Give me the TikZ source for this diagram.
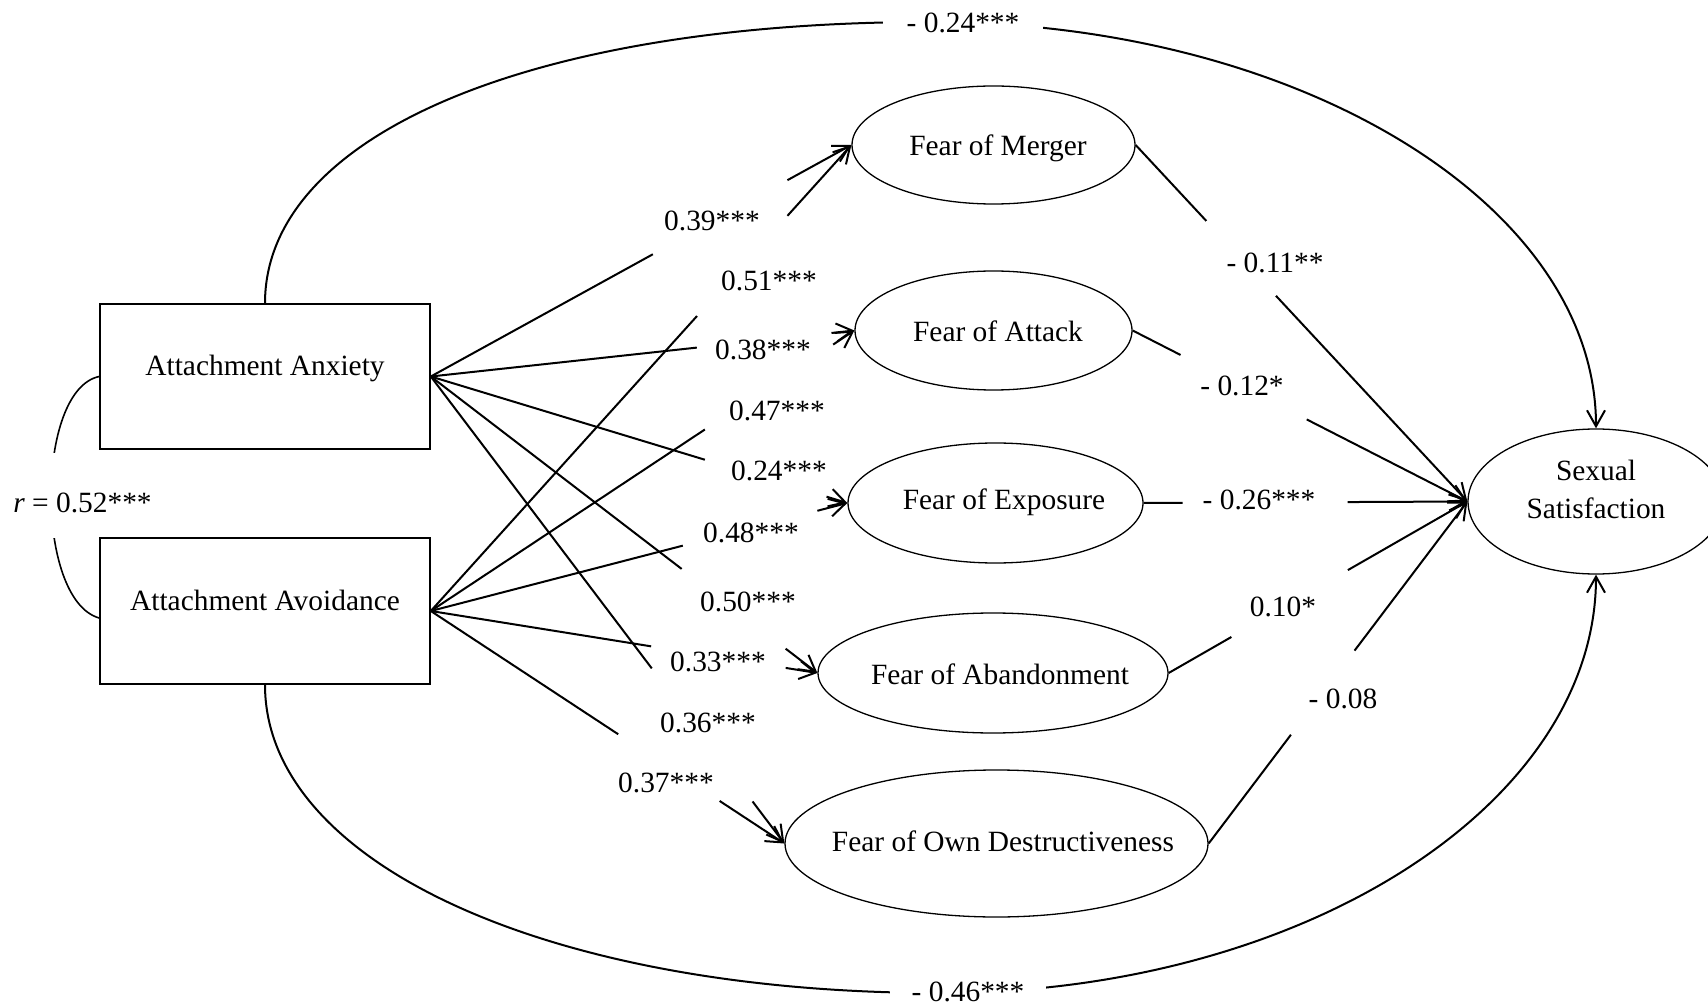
\documentclass[tikz,border=0pt]{standalone}
\usepackage{fontspec}
\setmainfont{Liberation Serif}
\usetikzlibrary{arrows.meta,calc,shapes.geometric}
\newcommand{\gapline}[4]{%
  \draw[conn] (#1) -- ($(#1)!#3!(#2)$);
  \draw[arr] ($(#1)!#4!(#2)$) -- (#2);}
\begin{document}
\begin{tikzpicture}[x=0.5pt,y=-0.5pt,
  font=\fontsize{14.7}{19}\selectfont,
  box/.style={draw, line width=0.8pt, minimum width=165pt, inner sep=0pt},
  lat/.style={draw, ellipse, line width=0.65pt, inner sep=0pt},
  txt/.style={inner sep=0pt, text height=0.66em, text depth=0pt},
  coef/.style={inner sep=0pt},
  conn/.style={line width=1pt},
  arr/.style={line width=1pt, -{Straight Barb[length=8pt,width=9pt]}},
]
\useasboundingbox (0,0) rectangle (1708,1005);

% observed variables
\node[box, minimum height=72.5pt] (anx) at (265,376.5) {};
\node[box, minimum height=73pt] (avo) at (265,611) {};
\node[txt] (anxt) at (265,368.5) {Attachment Anxiety};
\node[txt] (avot) at (265,604) {Attachment Avoidance};

% mediators
\node[lat, minimum width=141.5pt, minimum height=59pt] (mer) at (993.5,145) {};
\node[lat, minimum width=138.5pt, minimum height=59.5pt] (att) at (993.5,330.5) {};
\node[lat, minimum width=147.5pt, minimum height=60pt] (exp) at (995.5,503) {};
\node[lat, minimum width=175pt, minimum height=60pt] (aba) at (993,673) {};
\node[lat, minimum width=211.5pt, minimum height=73.5pt] (des) at (996.5,843.5) {};
\node[txt] (mert) at (998,148.5) {Fear of Merger};
\node[txt] (attt) at (998,335) {Fear of Attack};
\node[txt] (expt) at (1004,503) {Fear of Exposure};
\node[txt] (abat) at (1000,678) {Fear of Abandonment};
\node[txt] (dest) at (1003,845) {Fear of Own Destructiveness};

% outcome
\node[lat, minimum width=128pt, minimum height=72.5pt] (sat) at (1596,501.5) {};
\node[txt] (satt1) at (1596,474) {Sexual};
\node[txt] (satt2) at (1596,511.5) {Satisfaction};

% correlation
\begin{scope}
  \clip (0,0) rectangle (101,453) (0,538) rectangle (101,1005);
  \draw[line width=0.8pt] (anx.west) .. controls (35,390) and (35,600) .. ([yshift=-3.5pt]avo.west);
\end{scope}
\node[coef] (rl) at (82.5,503) {\textit{r} = 0.52***};

% direct effects
\draw[arr] (anx.north) .. controls (265,135) and (531,22) .. (930,22)
  .. controls (1298,22) and (1596,204) .. (sat.north);
\draw[arr] (avo.south) .. controls (265,863) and (548,993) .. (940,993)
  .. controls (1302,993) and (1596,805) .. (sat.south);
\node[coef, fill=white, inner xsep=12pt, inner ysep=4pt] (ltop) at (963,23) {- 0.24***};
\node[coef, fill=white, inner xsep=11pt, inner ysep=4pt] (lbot) at (968,992) {- 0.46***};

% a paths
\gapline{anx.east}{mer.west}{0.528}{0.848}
\gapline{avo.east}{mer.west}{0.633}{0.848}
\gapline{anx.east}{att.west}{0.628}{0.946}
\gapline{avo.east}{att.west}{0.647}{0.95}
\gapline{anx.east}{exp.west}{0.658}{0.95}
\gapline{avo.east}{exp.west}{0.605}{0.928}
\gapline{anx.east}{aba.west}{0.649}{0.918}
\gapline{avo.east}{aba.west}{0.570}{0.918}
\gapline{anx.east}{des.west}{0.625}{0.910}
\gapline{avo.east}{des.west}{0.530}{0.817}

\node[coef] (l1) at (712,220.5) {0.39***};
\node[coef] (l2) at (769,280.5) {0.51***};
\node[coef] (l3) at (763,349.5) {0.38***};
\node[coef] (l4) at (777,410.5) {0.47***};
\node[coef] (l5) at (779,470.5) {0.24***};
\node[coef] (l6) at (751,532.5) {0.48***};
\node[coef] (l7) at (748,601.5) {0.50***};
\node[coef] (l8) at (718,661.5) {0.33***};
\node[coef] (l9) at (708,722.5) {0.36***};
\node[coef] (l10) at (666,782.5) {0.37***};

% b paths
\gapline{mer.east}{sat.west}{0.213}{0.423}
\gapline{att.east}{sat.west}{0.143}{0.52}
\gapline{exp.east}{sat.west}{0.12}{0.63}
\gapline{aba.east}{sat.west}{0.21}{0.60}
\gapline{des.east}{sat.west}{0.318}{0.564}

\node[coef] (m1) at (1275,262.5) {- 0.11**};
\node[coef] (m2) at (1242,385.5) {- 0.12*};
\node[coef] (m3) at (1259,499.5) {- 0.26***};
\node[coef] (m4) at (1283,606.5) {0.10*};
\node[coef] (m5) at (1343,698.5) {- 0.08};
\end{tikzpicture}
\end{document}
